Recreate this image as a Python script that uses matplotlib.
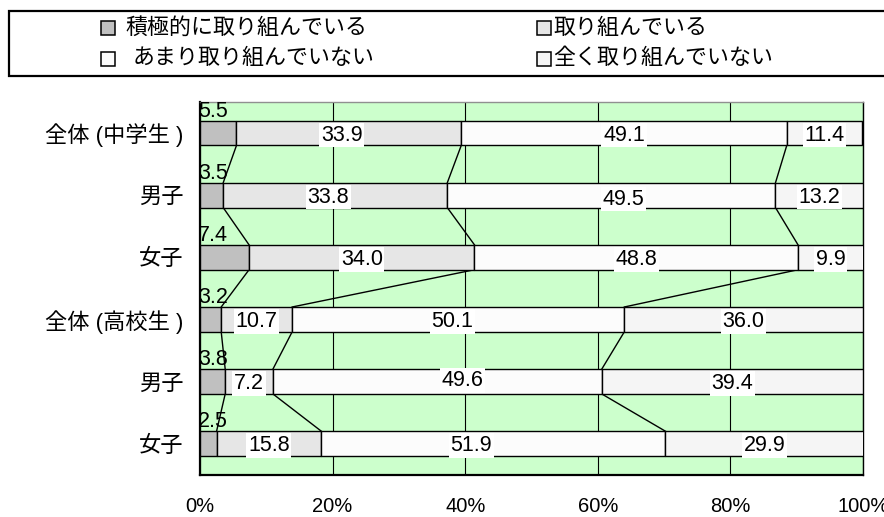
import numpy as np
import matplotlib
matplotlib.use("Agg")
import matplotlib.pyplot as plt
from matplotlib.patches import Rectangle

plt.rcParams['font.family'] = ['Liberation Sans', 'Noto Sans CJK JP', 'DejaVu Sans']

# 行ラベル（上から）
groups = ['全体 (中学生 )', '男子', '女子', '全体 (高校生 )', '男子', '女子']
categories = ['積極的に取り組んでいる', '取り組んでいる', 'あまり取り組んでいない', '全く取り組んでいない']

active = [5.5, 3.5, 7.4, 3.2, 3.8, 2.5]
doing = [33.9, 33.8, 34.0, 10.7, 7.2, 15.8]
not_much = [49.1, 49.5, 48.8, 50.1, 49.6, 51.9]
not_at_all = [11.4, 13.2, 9.9, 36.0, 39.4, 29.9]

xticks = [0, 20, 40, 60, 80, 100]
xticklabels = ['0%', '20%', '40%', '60%', '80%', '100%']

colors = ['#C0C0C0', '#E6E6E6', '#FCFCFC', '#F5F5F5']
BG = '#CCFFCC'
BAR_H = 0.40

# ラベル位置の微調整 (px): (行, 系列) -> (dx, dy)
nudge = {(0, 1): (-7, 0), (1, 1): (-7, 0), (1, 2): (12, 2),
         (3, 2): (-6, 0), (4, 2): (25, -3), (5, 2): (-22, 0)}

series = np.array([active, doing, not_much, not_at_all])
cum = np.cumsum(series, axis=0)
left = cum - series
y = np.arange(len(groups))

fig = plt.figure(figsize=(8.84, 5.17), dpi=100)
W, H = 884, 517
ax = fig.add_axes([200 / W, (H - 474.7) / H, 663 / W, (474.7 - 102) / H])
ax.set_facecolor(BG)

for k in range(4):
    ax.barh(y, series[k], left=left[k], height=BAR_H, color=colors[k],
            edgecolor='black', linewidth=1.0, zorder=3)

# 系列線（隣り合う棒の境界をつなぐ）
for i in range(len(groups) - 1):
    for k in range(3):
        ax.plot([cum[k, i], cum[k, i + 1]],
                [y[i] + BAR_H / 2, y[i + 1] - BAR_H / 2],
                color='black', linewidth=1.0, zorder=2)

# データラベル
px = 72 / 100  # 1px in points
for i in range(len(groups)):
    # 最初の系列は棒の左上に置く
    ax.annotate(f'{series[0, i]:.1f}', xy=(0, y[i]), xytext=(-1.5, 22 * px),
                textcoords='offset points', ha='left', va='center',
                fontsize=15.5, zorder=5, annotation_clip=False)
    for k in range(1, 4):
        dx, dy = nudge.get((i, k), (0, 0))
        ax.annotate(f'{series[k, i]:.1f}', xy=(left[k, i] + series[k, i] / 2, y[i]),
                    xytext=(dx * px, -(dy + 2) * px), textcoords='offset points',
                    ha='center', va='center', fontsize=15.5, zorder=5,
                    bbox=dict(boxstyle='square,pad=0.08', facecolor='white',
                              edgecolor='none'))

ax.set_xlim(0, 100)
ax.set_ylim(len(groups) - 0.5, -0.5)
ax.set_xticks(xticks)
ax.set_xticklabels(xticklabels, fontsize=14.5)
ax.set_yticks(y)
ax.set_yticklabels(groups, fontsize=16)
ax.tick_params(axis='x', length=0, pad=16)
ax.tick_params(axis='y', length=0, pad=12)

ax.set_axisbelow(True)
ax.xaxis.grid(True, color='black', linewidth=0.8)
ax.yaxis.grid(False)
for side in ['left', 'bottom']:
    ax.spines[side].set_linewidth(1.6)
    ax.spines[side].set_color('black')
ax.spines['right'].set_linewidth(1.0)
ax.spines['right'].set_color('black')
ax.spines['top'].set_linewidth(1.0)
ax.spines['top'].set_color('#909090')

# 凡例（上部の枠）
fig.patches.append(Rectangle((9 / W, (H - 76) / H), 900 / W, 65 / H,
                             transform=fig.transFigure, facecolor='white',
                             edgecolor='black', linewidth=1.6))
legend_pos = [(101, 28, 125), (537, 28, 553), (101, 59, 133), (537, 59, 553)]
for (mx, my, tx), cat, col in zip(legend_pos, categories, colors):
    fig.patches.append(Rectangle((mx / W, (H - my - 7) / H), 14 / W, 14 / H,
                                 transform=fig.transFigure, facecolor=col,
                                 edgecolor='black', linewidth=1.1))
    fig.text(tx / W, (H - my) / H, cat, fontsize=15.8, ha='left', va='center')

fig.savefig('out.png', dpi=100)
